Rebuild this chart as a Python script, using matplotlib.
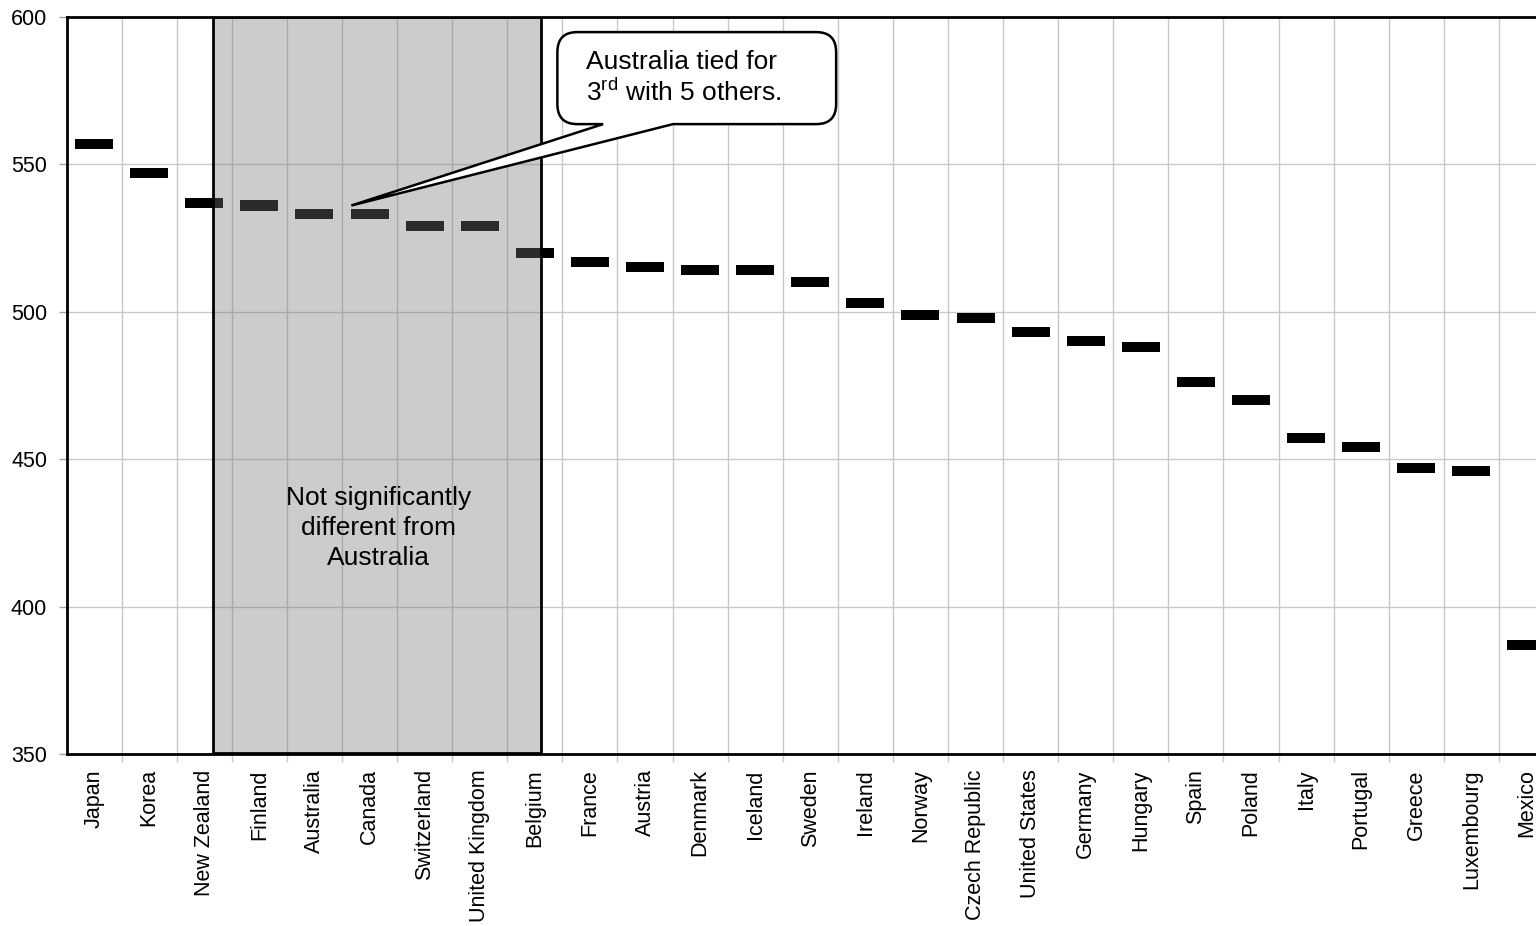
import numpy as np
from matplotlib import pyplot as plt
from matplotlib.patches import Rectangle, PathPatch
from matplotlib.path import Path

plt.rcParams['font.family'] = ['Liberation Sans', 'DejaVu Sans']
plt.rcParams['mathtext.fontset'] = 'custom'
plt.rcParams['mathtext.rm'] = 'Liberation Sans'

countries = ['Japan', 'Korea', 'New Zealand', 'Finland', 'Australia', 'Canada',
             'Switzerland', 'United Kingdom', 'Belgium', 'France', 'Austria',
             'Denmark', 'Iceland', 'Sweden', 'Ireland', 'Norway', 'Czech Republic',
             'United States', 'Germany', 'Hungary', 'Spain', 'Poland', 'Italy',
             'Portugal', 'Greece', 'Luxembourg', 'Mexico']
scores = [557, 547, 537, 536, 533, 533, 529, 529, 520, 517, 515, 514, 514, 510,
          503, 499, 498, 493, 490, 488, 476, 470, 457, 454, 447, 446, 387]

# band of countries not significantly different from Australia
band_start = 'Finland'
band_end = 'Belgium'

x = np.arange(len(countries))
s = np.array(scores)

fig = plt.figure(figsize=(15.36, 9.26), dpi=100)
ax = fig.add_axes([0.0433, 0.1857, 0.9684, 0.7962])

ax.set_xlim(-0.5, len(countries) - 0.5)
ax.set_ylim(350, 600)

# grid
ax.set_yticks([350, 400, 450, 500, 550, 600])
ax.set_xticks(x)
ax.set_xticks(x[:-1] + 0.5, minor=True)
ax.grid(True, which='minor', axis='x', color='#c8c8c8', linewidth=1, zorder=0)
ax.grid(True, which='major', axis='y', color='#c8c8c8', linewidth=1, zorder=0)
ax.set_axisbelow(True)

# score markers
mh = 3.4
ax.bar(x, mh, bottom=s - mh / 2, width=0.69, color='black', zorder=2)

# shaded band
i0 = countries.index(band_start)
i1 = countries.index(band_end)
ax.add_patch(Rectangle((i0 - 0.85, 350.4), (i1 - i0) + 0.97, 249.6,
                       facecolor=(0.48, 0.45, 0.48, 0.37), edgecolor='black',
                       linewidth=2, zorder=3))
ax.text((i0 + i1) / 2 - 0.34, 426.6,
        'Not significantly\ndifferent from\nAustralia',
        ha='center', va='center', fontsize=19, linespacing=1.3, zorder=4)

# callout bubble
aus = countries.index('Canada')
tip = (aus - 0.33, s[aus] + 3)
x0, x1, y0, y1 = 8.41, 13.47, 563.6, 594.8
rx, ry = 0.36, 6.8
xa, xb = 9.24, 10.51
verts = [(x0 + rx, y0), (xa, y0), tip, (xb, y0), (x1 - rx, y0),
         (x1, y0), (x1, y0 + ry), (x1, y1 - ry),
         (x1, y1), (x1 - rx, y1), (x0 + rx, y1),
         (x0, y1), (x0, y1 - ry), (x0, y0 + ry),
         (x0, y0), (x0 + rx, y0), (x0 + rx, y0)]
codes = [Path.MOVETO, Path.LINETO, Path.LINETO, Path.LINETO, Path.LINETO,
         Path.CURVE3, Path.CURVE3, Path.LINETO,
         Path.CURVE3, Path.CURVE3, Path.LINETO,
         Path.CURVE3, Path.CURVE3, Path.LINETO,
         Path.CURVE3, Path.CURVE3, Path.CLOSEPOLY]
ax.add_patch(PathPatch(Path(verts, codes), facecolor='white', edgecolor='black',
                       linewidth=1.8, zorder=5, joinstyle='miter'))
ax.text(8.93, 579.2, 'Australia tied for\n3$^{\\mathrm{rd}}$ with 5 others.',
        ha='left', va='center', fontsize=19, linespacing=1.2, zorder=6)

# axes styling
ax.set_xticklabels(countries, rotation=90, fontsize=15.5, va='top')
ax.tick_params(axis='x', which='major', length=0, pad=11)
ax.tick_params(axis='x', which='minor', length=6, color='#c8c8c8', width=1)
ax.tick_params(axis='y', length=6, color='#a0a0a0', width=1, labelsize=15.5, pad=8)
for side in ['left', 'bottom', 'top', 'right']:
    ax.spines[side].set_linewidth(2)
    ax.spines[side].set_color('black')

fig.savefig('out.png', dpi=100)
